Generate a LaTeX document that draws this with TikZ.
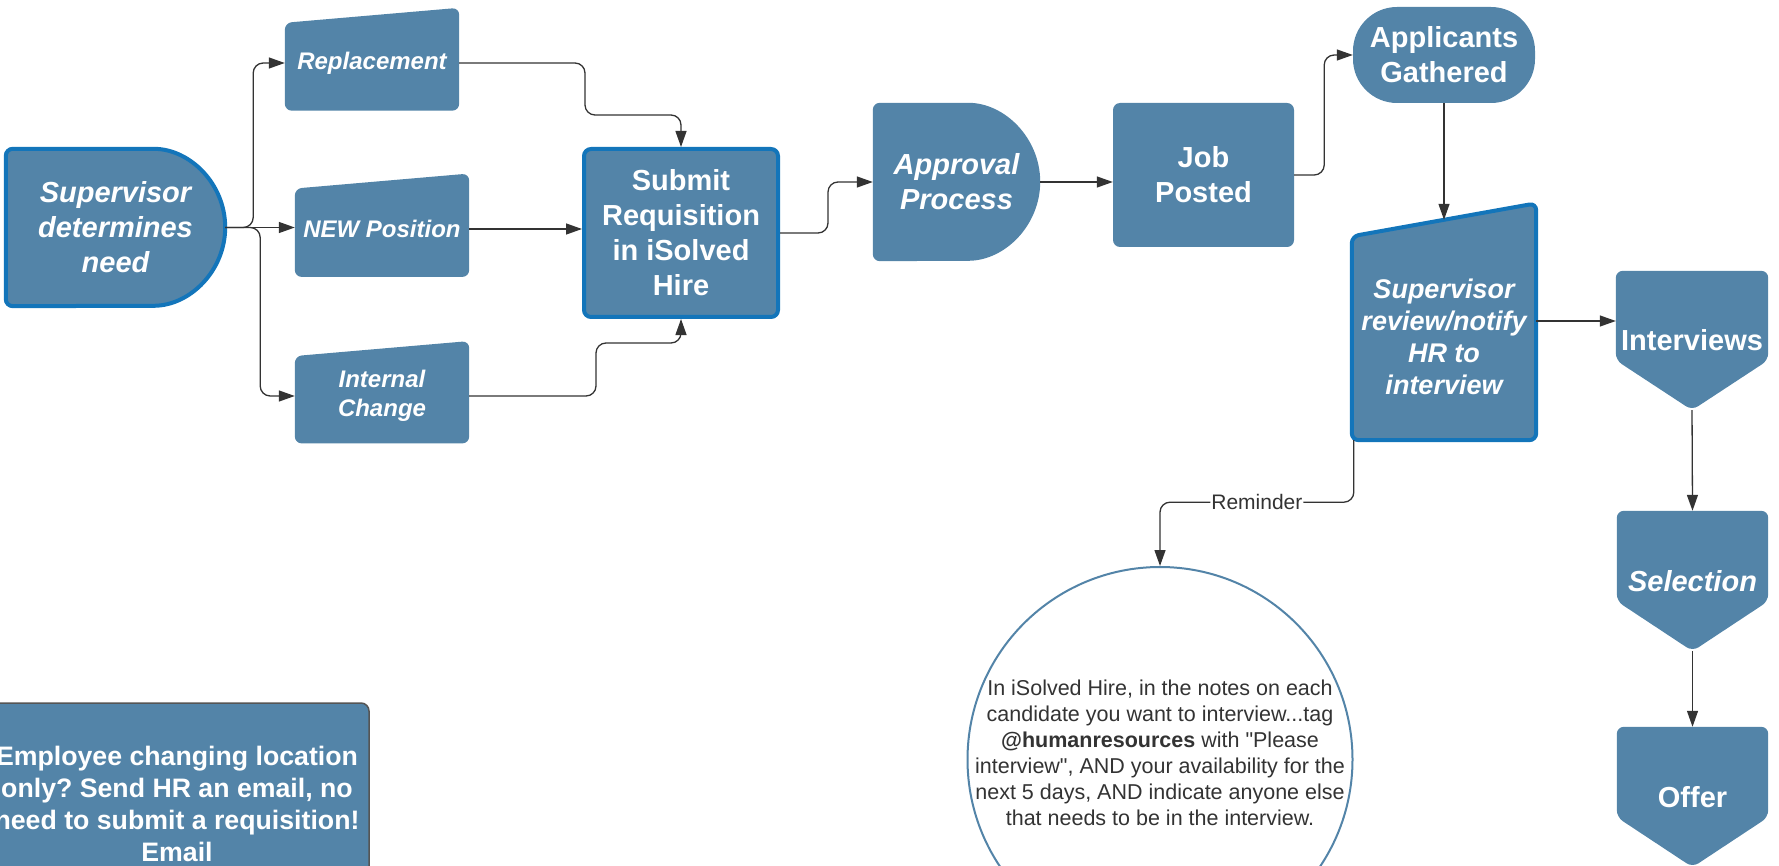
\documentclass[tikz,border=0pt]{standalone}
\usepackage{fontspec}
\setmainfont{Liberation Sans}[Ligatures=TeXOff]
\usetikzlibrary{arrows.meta,backgrounds,calc}
\frenchspacing

\definecolor{boxblue}{RGB}{83,132,168}
\definecolor{edgeblue}{RGB}{19,117,186}
\definecolor{linegray}{RGB}{51,51,51}
\definecolor{edgegray}{RGB}{85,85,85}

\tikzset{
  box/.style={rectangle, inner sep=0pt, text=white, align=center},
  bigb/.style={font=\fontsize{29}{35}\selectfont\bfseries},
  bigbi/.style={font=\fontsize{29}{35}\selectfont\bfseries\itshape},
  smallbi/.style={font=\fontsize{24}{29}\selectfont\bfseries\itshape},
  shapefill/.style={fill=boxblue, rounded corners=7pt},
  thickedge/.style={draw=edgeblue, line width=4pt},
  flow/.style={draw=linegray, line width=1.3pt, rounded corners=10pt, -{Triangle[length=16pt,width=11pt]}},
  remlabel/.style={fill=white, inner sep=1pt, text=linegray, font=\fontsize{21}{25}\selectfont}
}

\begin{document}
\begin{tikzpicture}[x=1pt,y=-1pt]
\useasboundingbox (0,0) rectangle (1779,866);

%left side
\node[box,bigbi,minimum width=219,minimum height=157] (S) at (115.5,227.5) {Supervisor\\determines\\need};
\node[box,smallbi,minimum width=174,minimum height=95] (R) at (372,63) {Replacement};
\node[box,smallbi,minimum width=174,minimum height=95.5] (N) at (382,229) {NEW Position};
\node[box,smallbi,minimum width=174,minimum height=94.5] (I) at (382,396) {Internal\\Change};
\node[box,bigb,fill=boxblue,thickedge,rounded corners=7pt,minimum width=194,minimum height=168] (Q) at (681,233) {Submit\\Requisition\\in iSolved\\Hire};

%middle
\node[box,bigbi,minimum width=167,minimum height=158] (A) at (956.5,182) {Approval\\Process};
\node[box,bigb,fill=boxblue,rounded corners=7pt,minimum width=181,minimum height=144] (J) at (1203.5,175) {Job\\Posted};
\node[box,bigb,fill=boxblue,rounded corners=44pt,minimum width=182,minimum height=96] (G) at (1444,55) {Applicants\\Gathered};
\node[box,minimum width=184,minimum height=220] (V) at (1444,330) {};
\node[box,font=\fontsize{27}{32}\selectfont\bfseries\itshape] (Vtext) at ([yshift=-7pt]V.center) {Supervisor\\review/notify\\HR to\\interview};

%right column
\node[box,bigb,minimum width=152,minimum height=139] (W) at (1692,340.5) {Interviews};
\node[box,bigbi,minimum width=151,minimum height=140] (L) at (1692.5,581) {Selection};
\node[box,bigb,minimum width=151,minimum height=140] (O) at (1692.5,797) {Offer};

%bottom
\node[circle,draw=boxblue,line width=2pt,fill=white,minimum size=385,inner sep=0pt] (C) at (1160,759.5) {};
\node[align=center,text=linegray,font=\fontsize{21.5}{26}\selectfont] (Ctext) at ([yshift=7pt]C.center) {In iSolved Hire, in the notes on each\\candidate you want to interview...tag\\\textbf{@humanresources} with "Please\\interview", AND your availability for the\\next 5 days, AND indicate anyone else\\that needs to be in the interview.};
\node[box,font=\fontsize{26.7}{32}\selectfont\bfseries,fill=boxblue,draw=edgegray,line width=1.5pt,rounded corners=8pt,minimum width=384,minimum height=202] (E) at (177,804) {Employee changing location\\only? Send HR an email, no\\need to submit a requisition!\\Email};

%shapes behind the text
\begin{scope}[on background layer]
\path[shapefill,thickedge] (S.north west) -- ([xshift=-78.5pt]S.north east) arc[start angle=-90,end angle=90,radius=78.5] -- (S.south west) -- cycle;
\path[shapefill] (A.north west) -- ([xshift=-79pt]A.north east) arc[start angle=-90,end angle=90,radius=79] -- (A.south west) -- cycle;
\path[shapefill] ([yshift=-7.5pt]R.north west) -- ([yshift=7.5pt]R.north east) -- (R.south east) -- (R.south west) -- cycle;
\path[shapefill] ([yshift=-7.5pt]N.north west) -- ([yshift=7.5pt]N.north east) -- (N.south east) -- (N.south west) -- cycle;
\path[shapefill] ([yshift=-7.5pt]I.north west) -- ([yshift=7.5pt]I.north east) -- (I.south east) -- (I.south west) -- cycle;
\path[shapefill,thickedge] ([yshift=-16.5pt]V.north west) -- ([yshift=16.5pt]V.north east) -- (V.south east) -- (V.south west) -- cycle;
\path[shapefill] (W.north west) -- (W.north east) -- ([yshift=50pt]W.south east) -- (W.south) -- ([yshift=50pt]W.south west) -- cycle;
\path[shapefill] (L.north west) -- (L.north east) -- ([yshift=50pt]L.south east) -- (L.south) -- ([yshift=50pt]L.south west) -- cycle;
\path[shapefill] (O.north west) -- (O.north east) -- ([yshift=50pt]O.south east) -- (O.south) -- ([yshift=50pt]O.south west) -- cycle;
\end{scope}

%connectors
\draw[flow] (S.east) -- ++(28,0) |- (R.west);
\draw[flow] (S.east) -- (S.east -| N.west);
\draw[flow] (S.east) -- ++(35,0) |- (I.west);
\draw[flow] (R.east) -| (585,115) -| (Q.north);
\draw[flow] (N.east) -- (N.east -| Q.west);
\draw[flow] (I.east) -| (596,343) -| (Q.south);
\draw[flow] (Q.east) -- ++(48,0) |- (A.west);
\draw[flow] (A.east) -- (A.east -| J.west);
\draw[flow] (J.east) -- ++(30,0) |- (G.west);
\draw[flow] (G.south) -- (V.north);
\draw[flow] ([yshift=9pt]V.east) -- ([yshift=9pt]V.east -| W.west);
\draw[flow] (W.south) -- (L.north);
\draw[flow] (L.south) -- (O.north);
\draw[flow] ([xshift=2pt]V.south west) -- ++(0,62) -| node[remlabel,pos=0.25] {Reminder} (C.north);
\end{tikzpicture}
\end{document}
